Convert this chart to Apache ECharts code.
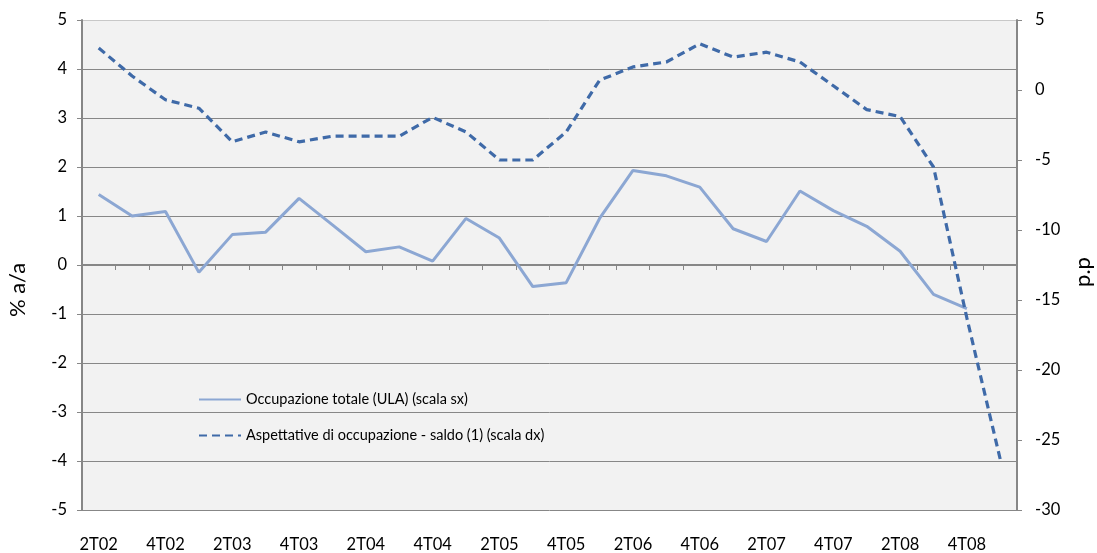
<!DOCTYPE html>
<html>
<head>
<meta charset="utf-8">
<script src="https://cdn.jsdelivr.net/npm/echarts@6/dist/echarts.min.js"></script>
<style>
  html, body { margin: 0; padding: 0; background: #ffffff; }
  #chart { width: 1097px; height: 553px; }
</style>
</head>
<body>
<div id="chart"></div>
<script>
// trimestri
var categories = ['2T02', '3T02', '4T02', '1T03', '2T03', '3T03', '4T03', '1T04', '2T04', '3T04',
  '4T04', '1T05', '2T05', '3T05', '4T05', '1T06', '2T06', '3T06', '4T06', '1T07',
  '2T07', '3T07', '4T07', '1T08', '2T08', '3T08', '4T08', '1T09']
// occupazione totale (ULA), % a/a, scala sx
var occupazione = [1.44, 1.0, 1.09, -0.15, 0.62, 0.67, 1.36, 0.82, 0.27, 0.37,
  0.08, 0.95, 0.55, -0.44, -0.36, 0.95, 1.93, 1.82, 1.59, 0.74,
  0.48, 1.51, 1.11, 0.79, 0.28, -0.6, -0.89, null]
// aspettative di occupazione - saldo, p.p, scala dx
var aspettative = [3.0, 1.0, -0.7, -1.3, -3.7, -3.0, -3.7, -3.3, -3.3, -3.3,
  -1.95, -3.0, -5.0, -5.0, -3.0, 0.7, 1.65, 2.0, 3.3, 2.35,
  2.7, 2.0, 0.3, -1.4, -1.9, -5.5, -16.3, -26.4]
var nomeSx = 'Occupazione totale (ULA) (scala sx)'
var nomeDx = 'Aspettative di occupazione - saldo (1) (scala dx)'

var font = 'Lato, "Open Sans", sans-serif'
var grigio = '#878787'

var chart = echarts.init(document.getElementById('chart'))

// griglia: l'ultima linea (5) piu chiara, come il bordo del grafico
var gridColors = []
for (var i = 0; i < 10; i++) gridColors.push(grigio)
gridColors.push('#c8c8c8')

chart.setOption({
  animation: false,
  backgroundColor: '#ffffff',
  textStyle: { fontFamily: font, color: '#000' },
  grid: {
    left: 82, right: 80, top: 20, bottom: 41,
    show: true, backgroundColor: '#f2f2f2', borderWidth: 0
  },
  legend: {
    orient: 'vertical',
    left: 193, top: 387,
    itemWidth: 42, itemHeight: 10, itemGap: 21,
    itemStyle: { opacity: 0 },
    textStyle: { fontSize: 14.5, fontFamily: font, color: '#000' },
    data: [nomeSx, nomeDx]
  },
  graphic: [
    { type: 'text', x: 18, y: 290, rotation: Math.PI / 2,
      style: { text: '% a/a', fontSize: 22, fontFamily: font, fill: '#000', align: 'center', verticalAlign: 'middle' } },
    { type: 'text', x: 1083, y: 272, rotation: Math.PI / 2,
      style: { text: 'p.p', fontSize: 22, fontFamily: font, fill: '#000', align: 'center', verticalAlign: 'middle' } }
  ],
  xAxis: [
    {
      type: 'category', data: categories, position: 'bottom',
      axisLine: { show: false }, axisTick: { show: false },
      axisLabel: { interval: 1, fontSize: 16.5, color: '#000', margin: 26 }
    },
    {
      type: 'category', data: categories, position: 'bottom',
      axisLine: { show: true, onZero: true, onZeroAxisIndex: 0, lineStyle: { color: grigio, width: 2 } },
      axisTick: { show: true, interval: 0, length: 5, lineStyle: { color: grigio } },
      axisLabel: { show: false }
    }
  ],
  yAxis: [
    {
      type: 'value', min: -5, max: 5, interval: 1, position: 'left',
      axisLine: { show: true, lineStyle: { color: grigio, width: 2 } },
      axisTick: { show: true, length: 5, lineStyle: { color: grigio } },
      axisLabel: { fontSize: 16.5, color: '#000', margin: 15 },
      splitLine: { show: true, lineStyle: { color: gridColors, width: 1 } }
    },
    {
      type: 'value', min: -30, max: 5, interval: 5, position: 'right',
      axisLine: { show: true, lineStyle: { color: grigio, width: 2 } },
      axisTick: { show: true, length: 5, lineStyle: { color: grigio } },
      axisLabel: { fontSize: 16.5, color: '#000', margin: 18 },
      splitLine: { show: false }
    }
  ],
  series: [
    {
      name: nomeSx, type: 'line', xAxisIndex: 0, yAxisIndex: 0,
      data: occupazione, symbol: 'none',
      lineStyle: { color: '#8ca7d3', width: 3 },
      itemStyle: { color: '#8ca7d3' }
    },
    {
      name: nomeDx, type: 'line', xAxisIndex: 0, yAxisIndex: 1,
      data: aspettative, symbol: 'none',
      lineStyle: { color: '#3f6aa8', width: 3.2, type: [8, 5] },
      itemStyle: { color: '#3f6aa8' }
    }
  ]
})
</script>
</body>
</html>
